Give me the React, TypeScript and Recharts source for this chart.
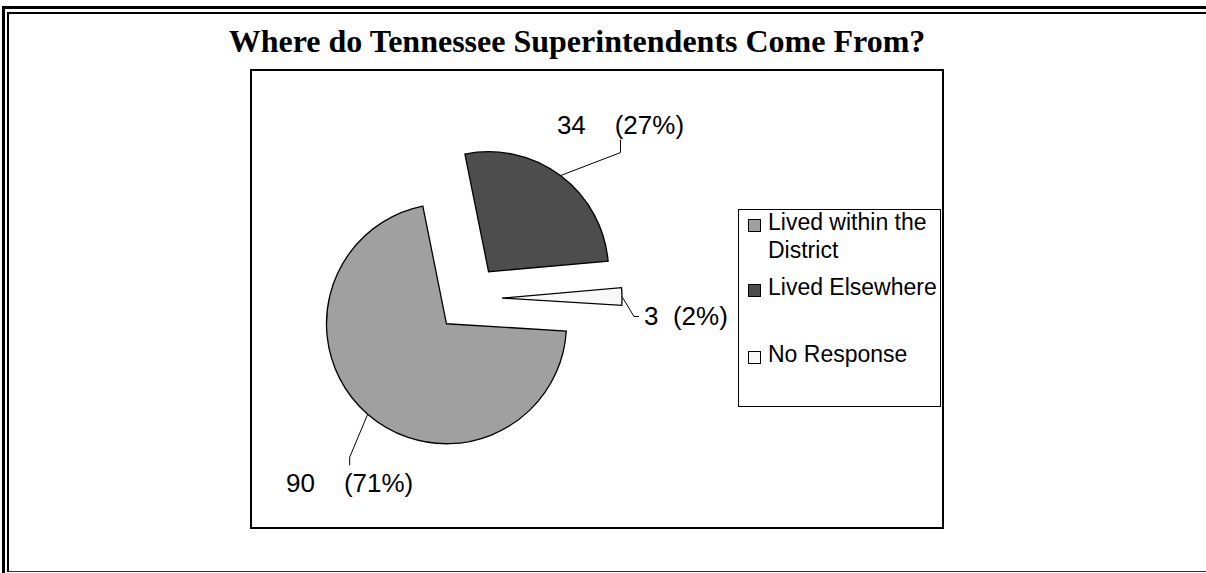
import React from 'react';
import { PieChart, Pie, Cell, Sector, Legend } from 'recharts';

const CATEGORIES = ['Lived within the District', 'Lived Elsewhere', 'No Response'];
const VALUES = [90, 34, 3];
const COLORS = ['#a0a0a0', '#4d4d4d', '#f8f8f8'];
const TITLE = 'Where do Tennessee Superintendents Come From?';

const data = CATEGORIES.map((name, i) => ({ name, value: VALUES[i] }));

const CX = 468.5;
const CY = 298.5;
const R = 120;
const EXPLODE = 33.5;
const START = -3.5;
const LABEL_FONT = 26;
const FONT = '"Liberation Sans", Arial, sans-serif';

const LABEL_LAYOUT = [
  { elbow: [-18, 43], end: [0, 8], text: [0, 27], anchor: 'middle', gap: '    ' },
  { elbow: [60, -23], end: [0, -13], text: [0, -6], anchor: 'middle', gap: '    ' },
  { elbow: [12, 20], end: [5, 0], text: [5, 9], anchor: 'start', gap: '  ' },
];

const LEGEND_ROW_TOP = [-2, 63, 130];

const ExplodedSector = (props: any) => {
  const { cx, cy, midAngle } = props;
  const rad = (-midAngle * Math.PI) / 180;
  return (
    <Sector
      {...props}
      cx={cx + EXPLODE * Math.cos(rad)}
      cy={cy + EXPLODE * Math.sin(rad)}
      stroke="#000"
      strokeWidth={1.3}
    />
  );
};

const renderLabel = (props: any) => {
  const { cx, cy, midAngle, outerRadius, index, value, percent } = props;
  const L = LABEL_LAYOUT[index];
  const rad = (-midAngle * Math.PI) / 180;
  const d = outerRadius + EXPLODE;
  const px = cx + d * Math.cos(rad);
  const py = cy + d * Math.sin(rad);
  const ex = px + L.elbow[0];
  const ey = py + L.elbow[1];
  const fx = ex + L.end[0];
  const fy = ey + L.end[1];
  const tx = fx + L.text[0];
  const ty = fy + L.text[1];
  const pct = Math.round(percent * 100);
  return (
    <g key={`lbl-${index}`}>
      <polyline points={`${px},${py} ${ex},${ey} ${fx},${fy}`} fill="none" stroke="#000" strokeWidth={1} />
      <text
        x={tx}
        y={ty}
        textAnchor={L.anchor as any}
        fontSize={LABEL_FONT}
        fontFamily={FONT}
        fill="#000"
        style={{ whiteSpace: 'pre' }}
      >
        {`${value}${L.gap}(${pct}%)`}
      </text>
    </g>
  );
};

const renderLegend = (props: any) => {
  const payload = [...(props.payload || [])].sort(
    (a: any, b: any) => CATEGORIES.indexOf(a.value) - CATEGORIES.indexOf(b.value)
  );
  return (
    <div
      style={{
        position: 'relative',
        width: 203,
        height: 198,
        boxSizing: 'border-box',
        border: '1px solid #000',
        background: '#fff',
        fontFamily: FONT,
        fontSize: 23,
        lineHeight: '28px',
        color: '#000',
      }}
    >
      {payload.map((entry: any) => {
        const i = CATEGORIES.indexOf(entry.value);
        return (
          <div key={entry.value} style={{ position: 'absolute', left: 29, top: LEGEND_ROW_TOP[i], width: 172 }}>
            <span
              style={{
                position: 'absolute',
                left: -20,
                top: 11,
                width: 11,
                height: 11,
                background: COLORS[i],
                border: '1px solid #000',
              }}
            />
            {entry.value}
          </div>
        );
      })}
    </div>
  );
};

export default function App() {
  return (
    <div style={{ position: 'absolute', left: 0, top: 0, width: 1206, height: 573, overflow: 'hidden', background: '#fff' }}>
      {/* page frame */}
      <div style={{ position: 'absolute', left: 2, top: 6, width: 3, height: 567, background: '#000' }} />
      <div style={{ position: 'absolute', left: 2, top: 6, width: 1204, height: 3, background: '#000' }} />
      <div style={{ position: 'absolute', left: 7, top: 12, width: 2, height: 560, background: '#000' }} />
      <div style={{ position: 'absolute', left: 7, top: 12, width: 1199, height: 2, background: '#000' }} />
      <div style={{ position: 'absolute', left: 9, top: 571, width: 1197, height: 1, background: '#333' }} />
      {/* plot area box */}
      <div
        style={{
          position: 'absolute',
          left: 250,
          top: 69,
          width: 694,
          height: 460,
          boxSizing: 'border-box',
          border: '2px solid #000',
        }}
      />
      {/* title */}
      <div
        style={{
          position: 'absolute',
          left: 0,
          top: 21,
          width: 1154,
          textAlign: 'center',
          fontFamily: '"Liberation Serif", "Times New Roman", serif',
          fontWeight: 'bold',
          fontSize: 32,
          lineHeight: '40px',
          color: '#000',
          whiteSpace: 'nowrap',
        }}
      >
        {TITLE}
      </div>
      <div style={{ position: 'absolute', left: 0, top: 0 }}>
        <PieChart width={1206} height={573} margin={{ top: 0, right: 0, bottom: 0, left: 0 }}>
          <Pie
            data={data}
            dataKey="value"
            nameKey="name"
            cx={CX}
            cy={CY}
            outerRadius={R}
            startAngle={START}
            endAngle={START - 360}
            isAnimationActive={false}
            shape={ExplodedSector}
            label={renderLabel}
            labelLine={false}
            stroke="#000"
          >
            {data.map((d, i) => (
              <Cell key={d.name} fill={COLORS[i]} />
            ))}
          </Pie>
          <Legend
            layout="vertical"
            align="right"
            verticalAlign="top"
            content={renderLegend}
            wrapperStyle={{ position: 'absolute', left: 738, top: 209, right: 'auto', width: 203, height: 198 }}
          />
        </PieChart>
      </div>
    </div>
  );
}
